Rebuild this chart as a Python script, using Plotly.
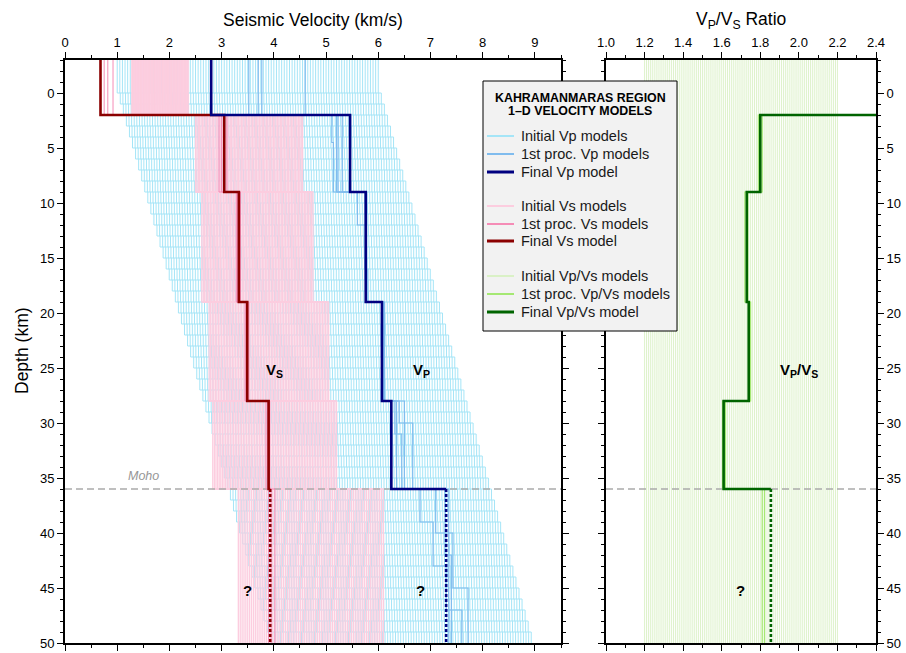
import plotly.graph_objects as go

W, H = 906, 653

# ---------------- data ----------------
# final model layers (depth km)
layer_bounds = [-3, 2, 9, 19, 28, 36]
moho_depth = 36
max_depth = 50

vp_final = [2.80, 5.46, 5.76, 6.07, 6.25]
vp_final_deep = 7.30
vs_final = [0.68, 3.05, 3.33, 3.49, 3.90]
vs_final_deep = 3.93
vpvs_final = [4.12, 1.80, 1.73, 1.74, 1.61]
vpvs_final_deep = 1.855

# initial Vp models: 1-km layered gradient models, offset grid
vp_init_top_min = 1.00
vp_init_top_max = 6.00
vp_init_offset_step = 0.05
vp_init_gradient = 0.0586          # km/s per 1-km layer
vp_init_bounds = [-3] + list(range(0, 51))

# initial Vs models: band per layer
vs_init_bounds = [-3, 2, 9, 19, 28, 36, 50]
vs_init_min = [1.28, 2.50, 2.62, 2.76, 2.83, 3.32]
vs_init_max = [2.36, 4.55, 4.75, 5.05, 5.20, 6.10]
vs_init_count = 78

# initial Vp/Vs models: constant ratios
vpvs_init_min = 1.20
vpvs_init_max = 2.20
vpvs_init_step = 0.01

# 1st processed Vp models
vp_proc_bounds = [
    [-3, 2, 4.5, 9, 12, 19, 28, 31, 36, 39, 43, 47, 50],
    [-3, 2, 9, 19, 28, 30, 36, 40, 45, 50],
    [-3, 2, 9, 19, 28, 36, 42, 50],
    [-3, 2, 9, 16, 19, 28, 36, 50],
]
vp_proc_vals = [
    [3.52, 5.11, 5.14, 5.60, 5.77, 6.08, 6.32, 6.45, 6.80, 7.05, 7.30, 7.60],
    [3.77, 5.23, 5.77, 6.10, 6.40, 6.66, 7.10, 7.43, 7.72],
    [4.60, 5.31, 5.78, 6.12, 6.50, 7.28, 7.40],
    [3.70, 5.20, 5.75, 5.80, 6.09, 6.35, 7.35],
]
# 1st processed Vs models
vs_proc_bounds = [-3, 2, 9, 19, 28, 36, 50]
vs_proc_vals = [
    [0.75, 3.00, 3.30, 3.45, 3.85, 3.95],
    [0.82, 3.10, 3.36, 3.52, 3.92, 4.02],
    [0.92, 2.95, 3.28, 3.47, 3.88, 3.90],
]
# 1st processed Vp/Vs models
vpvs_proc_bounds = [-3, 2, 9, 19, 28, 36, 50]
vpvs_proc_vals = [
    [4.10, 1.79, 1.72, 1.745, 1.62, 1.81],
    [4.10, 1.81, 1.735, 1.75, 1.605, 1.822],
]

# ---------------- styles ----------------
FONT = "Liberation Sans, Arial, Helvetica, sans-serif"
C_VP_INIT = "rgb(165,229,247)"
C_VP_PROC = "rgb(128,188,238)"
C_VP_FINAL = "rgb(0,0,128)"
C_VS_INIT = "rgb(252,205,223)"
C_VS_PROC = "rgb(245,140,182)"
C_VS_FINAL = "rgb(139,0,0)"
C_R_INIT = "rgb(218,241,198)"
C_R_PROC = "rgb(165,232,115)"
C_R_FINAL = "rgb(0,100,0)"
C_MOHO = "rgb(170,170,170)"


def step(bounds, vals):
    xs, ys = [], []
    for i, v in enumerate(vals):
        xs += [v, v]
        ys += [bounds[i], bounds[i + 1]]
    return xs, ys


def join(profiles):
    X, Y = [], []
    for xs, ys in profiles:
        X += xs + [None]
        Y += ys + [None]
    return X, Y


fig = go.Figure()


def add(x, y, color, width, axes=("x", "y"), dash=None):
    fig.add_trace(go.Scatter(
        x=x, y=y, mode="lines", xaxis=axes[0], yaxis=axes[1],
        line=dict(color=color, width=width, dash=dash),
        hoverinfo="skip", showlegend=False, connectgaps=False))


# initial Vp family
profiles = []
n_vp = int(round((vp_init_top_max - vp_init_top_min) / vp_init_offset_step)) + 1
for i in range(n_vp):
    v0 = vp_init_top_min + i * vp_init_offset_step
    vals = [v0 + j * vp_init_gradient for j in range(len(vp_init_bounds) - 1)]
    profiles.append(step(vp_init_bounds, vals))
X, Y = join(profiles)
add(X, Y, C_VP_INIT, 1.0)

# initial Vs family
profiles = []
for k in range(vs_init_count):
    t = k / (vs_init_count - 1)
    vals = [a + (b - a) * t for a, b in zip(vs_init_min, vs_init_max)]
    profiles.append(step(vs_init_bounds, vals))
X, Y = join(profiles)
add(X, Y, C_VS_INIT, 1.3)

# initial Vp/Vs family
n_r = int(round((vpvs_init_max - vpvs_init_min) / vpvs_init_step)) + 1
X, Y = [], []
for i in range(n_r):
    r = vpvs_init_min + i * vpvs_init_step
    X += [r, r, None]
    Y += [-3, max_depth, None]
add(X, Y, C_R_INIT, 0.9, axes=("x2", "y2"))

# Moho lines
add([0, 9.5], [moho_depth, moho_depth], C_MOHO, 1.3, dash="7px,4px")
add([1.0, 2.4], [moho_depth, moho_depth], C_MOHO, 1.3, axes=("x2", "y2"), dash="7px,4px")

# 1st processed models
X, Y = join([step(b, v) for b, v in zip(vp_proc_bounds, vp_proc_vals)])
add(X, Y, C_VP_PROC, 1.2)
X, Y = join([step(vs_proc_bounds, v) for v in vs_proc_vals])
add(X, Y, C_VS_PROC, 1.0)
X, Y = join([step(vpvs_proc_bounds, v) for v in vpvs_proc_vals])
add(X, Y, C_R_PROC, 1.2, axes=("x2", "y2"))


# final models
def final(vals, deep, color, axes=("x", "y")):
    xs, ys = step(layer_bounds, vals)
    xs += [deep]
    ys += [moho_depth]
    add(xs, ys, color, 2.6, axes=axes)
    add([deep, deep], [moho_depth, max_depth], color, 2.6, axes=axes, dash="3px,2px")


final(vs_final, vs_final_deep, C_VS_FINAL)
final(vp_final, vp_final_deep, C_VP_FINAL)
final(vpvs_final, vpvs_final_deep, C_R_FINAL, axes=("x2", "y2"))

# ---------------- axes ----------------
ydom = [10 / H, 593 / H]
common = dict(showline=True, linecolor="black", linewidth=2, mirror="ticks",
              ticks="outside", ticklen=6, tickwidth=1, tickcolor="black",
              showgrid=False, zeroline=False, automargin=False,
              tickfont=dict(family=FONT, size=13, color="black"))
fig.update_layout(
    xaxis=dict(domain=[65 / W, 561 / W], range=[0, 9.5], side="top", anchor="y",
               tick0=0, dtick=1,
               minor=dict(dtick=0.5, ticklen=3, ticks="outside", tickcolor="black"),
               **common),
    yaxis=dict(domain=ydom, range=[50, -3], anchor="x", tick0=0, dtick=5,
               minor=dict(dtick=1, ticklen=3, ticks="outside", tickcolor="black"),
               **common),
    xaxis2=dict(domain=[606 / W, 876 / W], range=[1.0, 2.4], side="top", anchor="y2",
                tick0=1.0, dtick=0.2, tickformat=".1f",
                minor=dict(dtick=0.1, ticklen=3, ticks="outside", tickcolor="black"),
                **common),
    yaxis2=dict(domain=ydom, range=[50, -3], anchor="x2", side="right", tick0=0, dtick=5,
                minor=dict(dtick=1, ticklen=3, ticks="outside", tickcolor="black"),
                **common),
    width=W, height=H, margin=dict(l=0, r=0, t=0, b=0, autoexpand=False),
    paper_bgcolor="white", plot_bgcolor="white",
    font=dict(family=FONT, color="black"),
    showlegend=False,
)


def py(ypx):
    return 1 - ypx / H


def px(xpx):
    return xpx / W


ann = []
# titles
ann.append(dict(text="Seismic Velocity (km/s)", x=px(313), y=py(20), xref="paper", yref="paper",
                showarrow=False, font=dict(size=17.5), xanchor="center", yanchor="middle"))
ann.append(dict(text="V<sub>P</sub>/V<sub>S</sub> Ratio", x=px(741), y=py(20), xref="paper", yref="paper",
                showarrow=False, font=dict(size=17.5), xanchor="center", yanchor="middle"))
ann.append(dict(text="Depth (km)", x=px(22), y=py(351), xref="paper", yref="paper", textangle=-90,
                showarrow=False, font=dict(size=17.5), xanchor="center", yanchor="middle"))
# in-plot labels
lab = dict(showarrow=False, font=dict(size=15), xanchor="center", yanchor="middle")
ann.append(dict(text="<b>V<sub>S</sub></b>", x=4.02, y=25.2, xref="x", yref="y", **lab))
ann.append(dict(text="<b>V<sub>P</sub></b>", x=6.82, y=25.2, xref="x", yref="y", **lab))
ann.append(dict(text="<b>?</b>", x=3.49, y=45.2, xref="x", yref="y", **lab))
ann.append(dict(text="<b>?</b>", x=6.8, y=45.2, xref="x", yref="y", **lab))
ann.append(dict(text="<b>V<sub>P</sub>/V<sub>S</sub></b>", x=2.0, y=25.2, xref="x2", yref="y2", **lab))
ann.append(dict(text="<b>?</b>", x=1.695, y=45.2, xref="x2", yref="y2", **lab))
ann.append(dict(text="<i>Moho</i>", x=1.5, y=35.6, xref="x", yref="y", showarrow=False,
                font=dict(size=12.5, color="rgb(150,150,150)"), xanchor="center", yanchor="bottom"))

# legend box
shapes = [dict(type="rect", xref="paper", yref="paper", x0=px(483), x1=px(677), y0=py(331), y1=py(81),
               fillcolor="rgb(242,242,242)", line=dict(color="black", width=1), layer="above")]
ann.append(dict(text="<b>KAHRAMANMARAS REGION</b>", x=px(580), y=py(98), xref="paper", yref="paper",
                showarrow=False, font=dict(size=12.4), xanchor="center", yanchor="middle"))
ann.append(dict(text="<b>1–D VELOCITY MODELS</b>", x=px(580), y=py(111), xref="paper", yref="paper",
                showarrow=False, font=dict(size=12.4), xanchor="center", yanchor="middle"))
legend_items = [
    ("Initial Vp models", C_VP_INIT, 2, 136),
    ("1st proc. Vp models", C_VP_PROC, 2, 154),
    ("Final Vp model", C_VP_FINAL, 3, 172),
    ("Initial Vs models", C_VS_INIT, 2, 206),
    ("1st proc. Vs models", C_VS_PROC, 2, 224),
    ("Final Vs model", C_VS_FINAL, 3, 241),
    ("Initial Vp/Vs models", C_R_INIT, 2, 276),
    ("1st proc. Vp/Vs models", C_R_PROC, 2, 294),
    ("Final Vp/Vs model", C_R_FINAL, 3, 312),
]
for label, color, w, ypx in legend_items:
    shapes.append(dict(type="line", xref="paper", yref="paper", x0=px(487), x1=px(514),
                       y0=py(ypx), y1=py(ypx), line=dict(color=color, width=w), layer="above"))
    ann.append(dict(text=label, x=px(519), y=py(ypx), xref="paper", yref="paper", showarrow=False,
                    font=dict(size=14.5, color="rgb(25,25,25)"), xanchor="left", yanchor="middle"))

fig.update_layout(annotations=ann, shapes=shapes)
fig.write_html("out.html", config={"displayModeBar": False},
               post_script="document.body.style.margin='0px';document.body.style.overflow='hidden';")
